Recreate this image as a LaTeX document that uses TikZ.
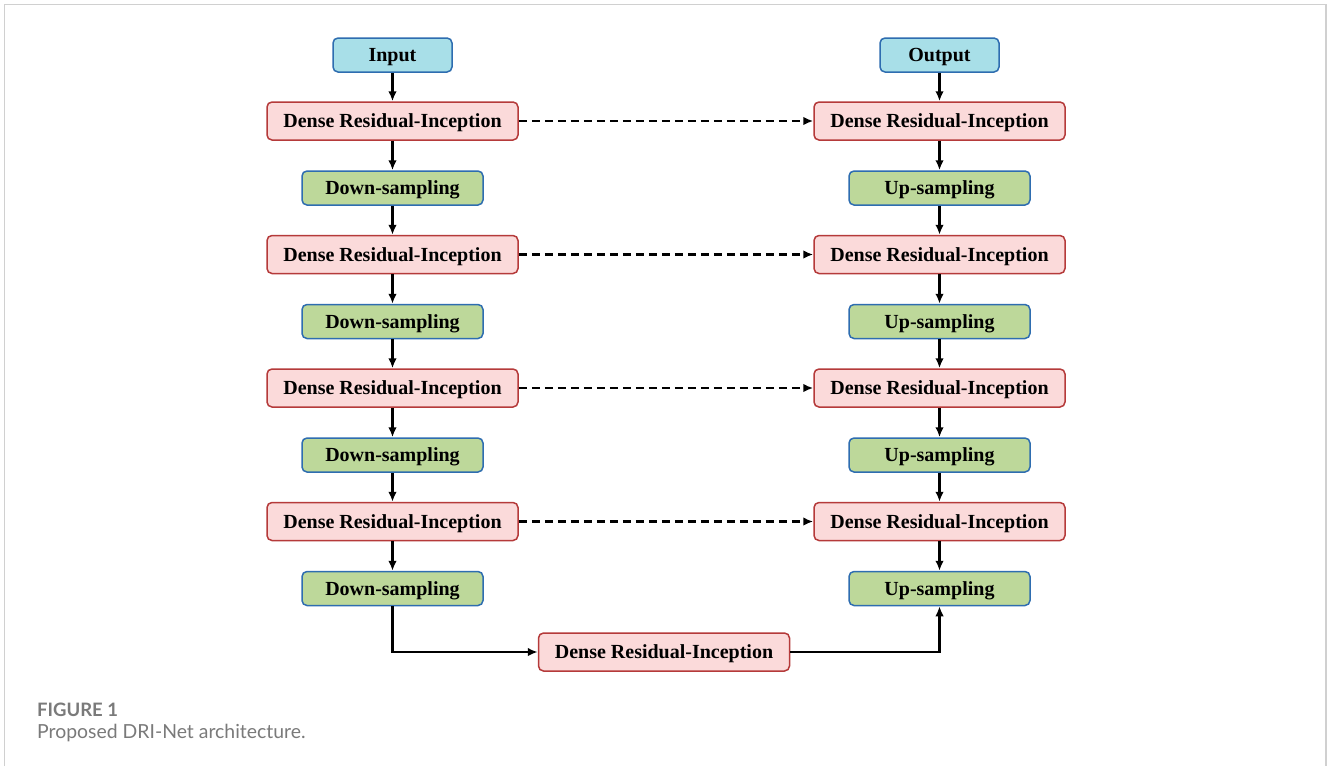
\documentclass[tikz,border=0pt]{standalone}
\usepackage{fontspec}
\setmainfont{Liberation Serif}
\newfontfamily\capfont{Lato}
\usetikzlibrary{arrows.meta}
\definecolor{ioFill}{HTML}{A8DFE8}
\definecolor{blueEdge}{HTML}{2E6DB0}
\definecolor{driFill}{HTML}{FBDADA}
\definecolor{driEdge}{HTML}{B53A3A}
\definecolor{sampFill}{HTML}{BDD89A}
\definecolor{frameGray}{HTML}{D0D0D0}
\definecolor{capGray}{HTML}{7A7A7A}
\tikzset{
  blk/.style={rounded corners=5pt, line width=1.5pt, align=center, inner sep=0pt,
    text height=17pt, text depth=4pt,
    font=\fontsize{20}{22}\selectfont\bfseries},
  iobox/.style={blk, fill=ioFill, draw=blueEdge, minimum width=119pt, minimum height=34pt},
  dribox/.style={blk, fill=driFill, draw=driEdge, minimum width=251pt, minimum height=38pt},
  sampbox/.style={blk, fill=sampFill, draw=blueEdge, minimum width=181pt, minimum height=34pt},
  flow/.style={line width=2.2pt, -{Latex[length=10pt,width=8.5pt]}},
  skip/.style={flow, dash pattern=on 8pt off 5pt},
}
\begin{document}
\begin{tikzpicture}[x=1pt,y=-1pt]
\useasboundingbox (0,0) rectangle (1328,766);
\fill[white] (0,0) rectangle (1328,766);
% outer frame (open at the bottom)
\draw[frameGray, line width=1.5pt] (4.5,766) -- (4.5,4.5) -- (1326,4.5) -- (1326,766);

% encoder column
\node[iobox] (in) at (392.5,55) {Input};
\node[dribox] (e1) at (392.5,121) {Dense Residual-Inception};
\node[sampbox] (d1) at (392.5,188) {Down-sampling};
\node[dribox] (e2) at (392.5,254.5) {Dense Residual-Inception};
\node[sampbox] (d2) at (392.5,321.5) {Down-sampling};
\node[dribox] (e3) at (392.5,388) {Dense Residual-Inception};
\node[sampbox] (d3) at (392.5,455) {Down-sampling};
\node[dribox] (e4) at (392.5,521.5) {Dense Residual-Inception};
\node[sampbox] (d4) at (392.5,588.5) {Down-sampling};

% bottleneck
\node[dribox] (b) at (664,652) {Dense Residual-Inception};

% decoder column
\node[iobox] (out) at (939.5,55) {Output};
\node[dribox] (r1) at (939.5,121) {Dense Residual-Inception};
\node[sampbox] (u1) at (939.5,188) {Up-sampling};
\node[dribox] (r2) at (939.5,254.5) {Dense Residual-Inception};
\node[sampbox] (u2) at (939.5,321.5) {Up-sampling};
\node[dribox] (r3) at (939.5,388) {Dense Residual-Inception};
\node[sampbox] (u3) at (939.5,455) {Up-sampling};
\node[dribox] (r4) at (939.5,521.5) {Dense Residual-Inception};
\node[sampbox] (u4) at (939.5,588.5) {Up-sampling};

% encoder flow
\draw[flow] (in) -- (e1);
\draw[flow] (e1) -- (d1);
\draw[flow] (d1) -- (e2);
\draw[flow] (e2) -- (d2);
\draw[flow] (d2) -- (e3);
\draw[flow] (e3) -- (d3);
\draw[flow] (d3) -- (e4);
\draw[flow] (e4) -- (d4);
\draw[flow] (d4.south) |- (b.west);

% decoder column links
\draw[flow] (b.east) -| (u4.south);
\draw[flow] (out) -- (r1);
\draw[flow] (r1) -- (u1);
\draw[flow] (u1) -- (r2);
\draw[flow] (r2) -- (u2);
\draw[flow] (u2) -- (r3);
\draw[flow] (r3) -- (u3);
\draw[flow] (u3) -- (r4);
\draw[flow] (r4) -- (u4);

% skip connections
\draw[skip] (e1) -- (r1);
\draw[skip] (e2) -- (r2);
\draw[skip] (e3) -- (r3);
\draw[skip] (e4) -- (r4);

% caption
\node[anchor=west, text=capGray, font=\capfont\bfseries\fontsize{18.5}{21}\selectfont, inner sep=0pt] (cap1) at (37,710) {FIGURE 1};
\node[anchor=west, text=capGray, font=\capfont\fontsize{19.4}{22}\selectfont, inner sep=0pt] (cap2) at (37,733) {Proposed DRI-Net architecture.};
\end{tikzpicture}
\end{document}
